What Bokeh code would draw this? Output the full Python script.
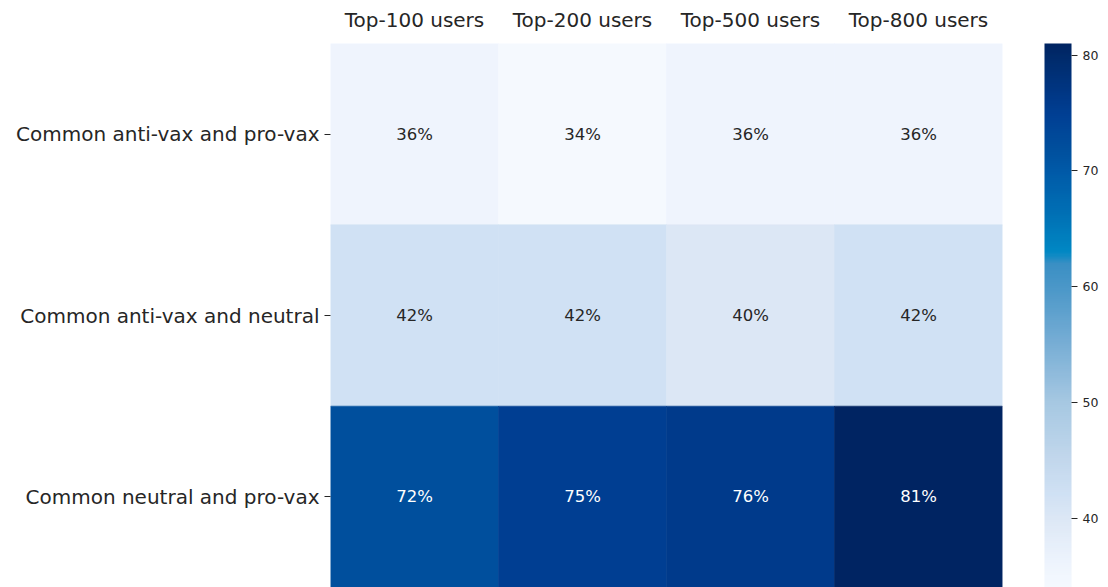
from bokeh.plotting import figure
from bokeh.models import ColumnDataSource, LinearColorMapper, ColorBar, FixedTicker
from bokeh.core.properties import value
from bokeh.embed import file_html
from bokeh.resources import INLINE

columns = ["Top-100 users", "Top-200 users", "Top-500 users", "Top-800 users"]
rows = ["Common anti-vax and pro-vax", "Common anti-vax and neutral", "Common neutral and pro-vax"]
row_anti_pro = [36, 34, 36, 36]
row_anti_neutral = [42, 42, 40, 42]
row_neutral_pro = [72, 75, 76, 81]
color_low = 34
color_high = 81
cbar_ticks = [40, 50, 60, 70, 80]

# colour stops (value, hex)
stop_values = [34, 36, 40, 42, 45, 50, 55, 60, 62, 63, 66, 70, 72, 75, 76, 80, 81]
stop_colors = ["#f5f9fe", "#eef4fd", "#dce7f5", "#d0e1f4", "#c2d7ec", "#a6c8e2", "#78aed5",
               "#4a97c8", "#3a8fc4", "#0088c4", "#0072b6", "#005aa8", "#004f9d", "#003f93",
               "#003a8b", "#002a6a", "#002462"]


def hex2rgb(h):
    return [int(h[i:i + 2], 16) for i in (1, 3, 5)]


def build_palette(n=256):
    out = []
    for i in range(n):
        v = color_low + (color_high - color_low) * i / (n - 1)
        for k in range(len(stop_values) - 1):
            if stop_values[k] <= v <= stop_values[k + 1]:
                t = (v - stop_values[k]) / (stop_values[k + 1] - stop_values[k])
                a, b = hex2rgb(stop_colors[k]), hex2rgb(stop_colors[k + 1])
                c = [round(a[j] + (b[j] - a[j]) * t) for j in range(3)]
                out.append("#%02x%02x%02x" % tuple(c))
                break
    return out


series = [row_anti_pro, row_anti_neutral, row_neutral_pro]
xs, ys, vals, labels, tcolors = [], [], [], [], []
for r, vs in zip(rows, series):
    for c, v in zip(columns, vs):
        xs.append(c)
        ys.append(r)
        vals.append(v)
        labels.append(f"{v}%")
        tcolors.append("#ffffff" if v > 60 else "#262626")

src = ColumnDataSource(dict(x=xs, y=ys, v=vals, label=labels, tc=tcolors))
mapper = LinearColorMapper(palette=build_palette(), low=color_low, high=color_high)

FONT = "DejaVu Sans"
p = figure(width=1108, height=587, x_range=columns, y_range=list(reversed(rows)),
           x_axis_location="above", output_backend="svg", toolbar_location=None,
           min_border_left=330, min_border_right=106, min_border_top=43, min_border_bottom=0)
p.rect(x="x", y="y", width=1, height=1, source=src,
       fill_color={"field": "v", "transform": mapper},
       line_color={"field": "v", "transform": mapper}, line_width=0.6)
p.text(x="x", y="y", text="label", source=src, text_color="tc",
       text_align="center", text_baseline="middle",
       text_font=value(FONT), text_font_size="16.5px")

p.outline_line_color = None
p.grid.grid_line_color = None
p.xaxis.axis_line_color = None
p.xaxis.major_tick_line_color = None
p.xaxis.major_label_text_font = FONT
p.xaxis.major_label_text_font_size = "20px"
p.xaxis.major_label_text_color = "#262626"
p.xaxis.major_label_standoff = 6
p.yaxis.axis_line_color = None
p.yaxis.major_tick_out = 6
p.yaxis.major_tick_in = 0
p.yaxis.major_tick_line_color = "#262626"
p.yaxis.major_label_text_font = FONT
p.yaxis.major_label_text_font_size = "20px"
p.yaxis.major_label_text_color = "#262626"
p.yaxis.major_label_standoff = 5

cb = ColorBar(color_mapper=mapper, width=27, height=544, padding=0, margin=0,
              ticker=FixedTicker(ticks=cbar_ticks), major_tick_out=6, major_tick_in=0,
              major_tick_line_color="#262626", bar_line_color=None, border_line_color=None,
              major_label_text_font=FONT, major_label_text_font_size="12.5px",
              major_label_text_color="#262626", location=(42, 0))
p.add_layout(cb, "right")

open("out.html", "w").write(file_html(p, INLINE))
